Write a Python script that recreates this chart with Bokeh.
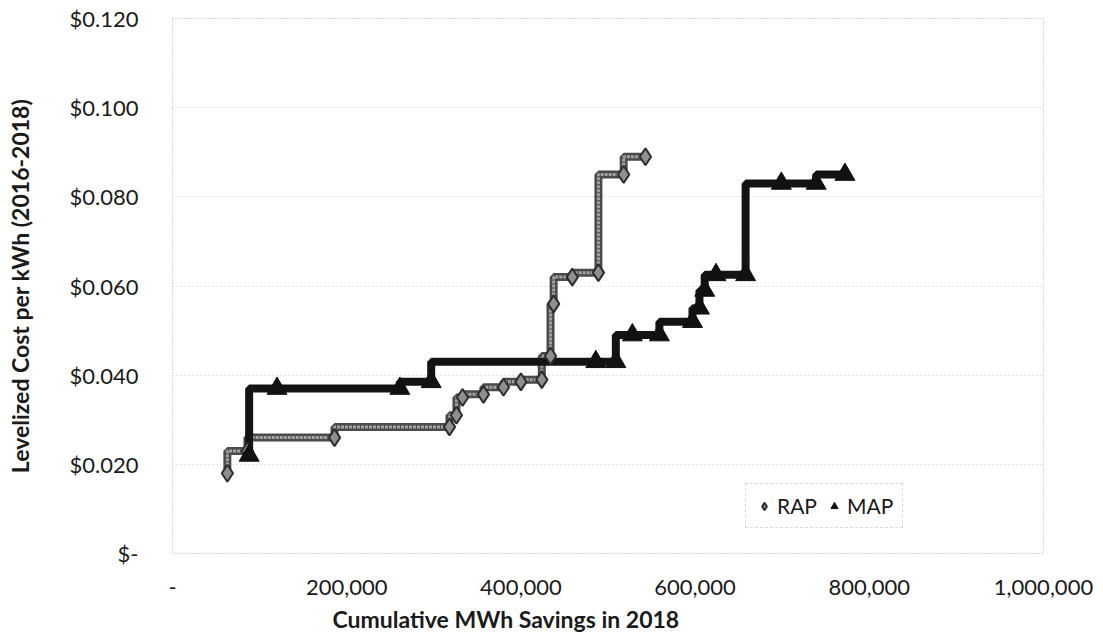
from bokeh.plotting import figure
from bokeh.models import Range1d, FixedTicker, NumeralTickFormatter, Legend, LegendItem, Title
from bokeh.embed import file_html
from bokeh.resources import INLINE

# ---- data ----
rap_x = [63000, 86000, 186000, 318000, 326000, 333000, 357000, 380000, 400000,
         424000, 434000, 437600, 459000, 489000, 518000, 543000]
rap_y = [0.018, 0.023, 0.026, 0.0284, 0.031, 0.035, 0.0357, 0.0373, 0.0385,
         0.039, 0.0443, 0.056, 0.062, 0.063, 0.085, 0.089]

map_x = [88000, 120000, 261000, 297000, 486000, 509000, 528000, 559000, 597000,
         605000, 611000, 624000, 658000, 699000, 739000, 772000]
map_y = [0.022, 0.037, 0.037, 0.0385, 0.043, 0.043, 0.049, 0.049, 0.052,
         0.055, 0.059, 0.0625, 0.0625, 0.083, 0.083, 0.085]

x_ticks = [0, 200000, 400000, 600000, 800000, 1000000]
y_ticks = [0, 0.02, 0.04, 0.06, 0.08, 0.10, 0.12]

x_title = "Cumulative MWh Savings in 2018"
y_title = "Levelized Cost per kWh (2016-2018)"
series_names = ["RAP", "MAP"]

FONT = "Lato"
TXT = "#1a1a1a"

p = figure(width=1103, height=637, output_backend="svg", toolbar_location=None,
           x_range=Range1d(0, 1000000), y_range=Range1d(0, 0.12),
           min_border_left=172, min_border_right=60, min_border_top=18,
           min_border_bottom=82)
p.background_fill_color = "white"
p.border_fill_color = "white"
p.outline_line_color = "#b5b5b5"
p.outline_line_dash = "1 2"

# axes
p.xaxis.ticker = FixedTicker(ticks=x_ticks)
p.yaxis.ticker = FixedTicker(ticks=y_ticks)
p.xaxis.formatter = NumeralTickFormatter(format="0,0")
p.yaxis.formatter = NumeralTickFormatter(format="$0.000")
p.xaxis.major_label_overrides = {0: "-"}
p.yaxis.major_label_overrides = {0: "$-"}
for ax in (p.xaxis, p.yaxis):
    ax.axis_line_color = None
    ax.major_tick_line_color = None
    ax.minor_tick_line_color = None
    ax.major_label_text_font = FONT
    ax.major_label_text_font_size = "22px"
    ax.major_label_text_color = TXT
p.yaxis.major_label_standoff = 28
p.xaxis.major_label_standoff = 20

# y axis title as the axis label
p.yaxis.axis_label = y_title
p.yaxis.axis_label_text_font = FONT
p.yaxis.axis_label_text_font_style = "bold"
p.yaxis.axis_label_text_font_size = "23px"
p.yaxis.axis_label_text_color = TXT
p.yaxis.axis_label_standoff = 33

p.xgrid.grid_line_color = None
p.ygrid.grid_line_color = "#c4c4c4"
p.ygrid.grid_line_dash = "1 3"

# x axis title, shifted left like the reference
p.add_layout(Title(text=x_title, align="left", offset=160, text_font=FONT,
                   text_font_style="bold", text_font_size="23px", text_color=TXT), "below")

# step lines
p.step(rap_x, rap_y, mode="before", line_color="#4a4a4a", line_width=8)
p.step(rap_x, rap_y, mode="before", line_color="#a3a3a3", line_width=3, line_dash="3 1")
p.step(map_x, map_y, mode="before", line_color="#141414", line_width=8)

# markers
r_rap = p.scatter(rap_x, rap_y, marker="diamond", size=17, fill_color="#8f8f8f",
                  line_color="#2e2e2e", line_width=2)
r_map = p.scatter(map_x, map_y, marker="triangle", size=20, fill_color="#111111",
                  line_color="#111111", line_width=1)

legend = Legend(items=[LegendItem(label=series_names[0], renderers=[r_rap]),
                       LegendItem(label=series_names[1], renderers=[r_map])],
                orientation="horizontal", location=(573, 25))
legend.label_text_font = FONT
legend.label_text_font_size = "21px"
legend.label_text_color = TXT
legend.glyph_width = 18
legend.glyph_height = 18
legend.label_standoff = 4
legend.spacing = 8
legend.padding = 9
legend.border_line_color = "#b5b5b5"
legend.border_line_dash = "1 2"
legend.background_fill_color = "white"
legend.background_fill_alpha = 1.0
p.add_layout(legend)

open("out.html", "w").write(file_html(p, INLINE))
